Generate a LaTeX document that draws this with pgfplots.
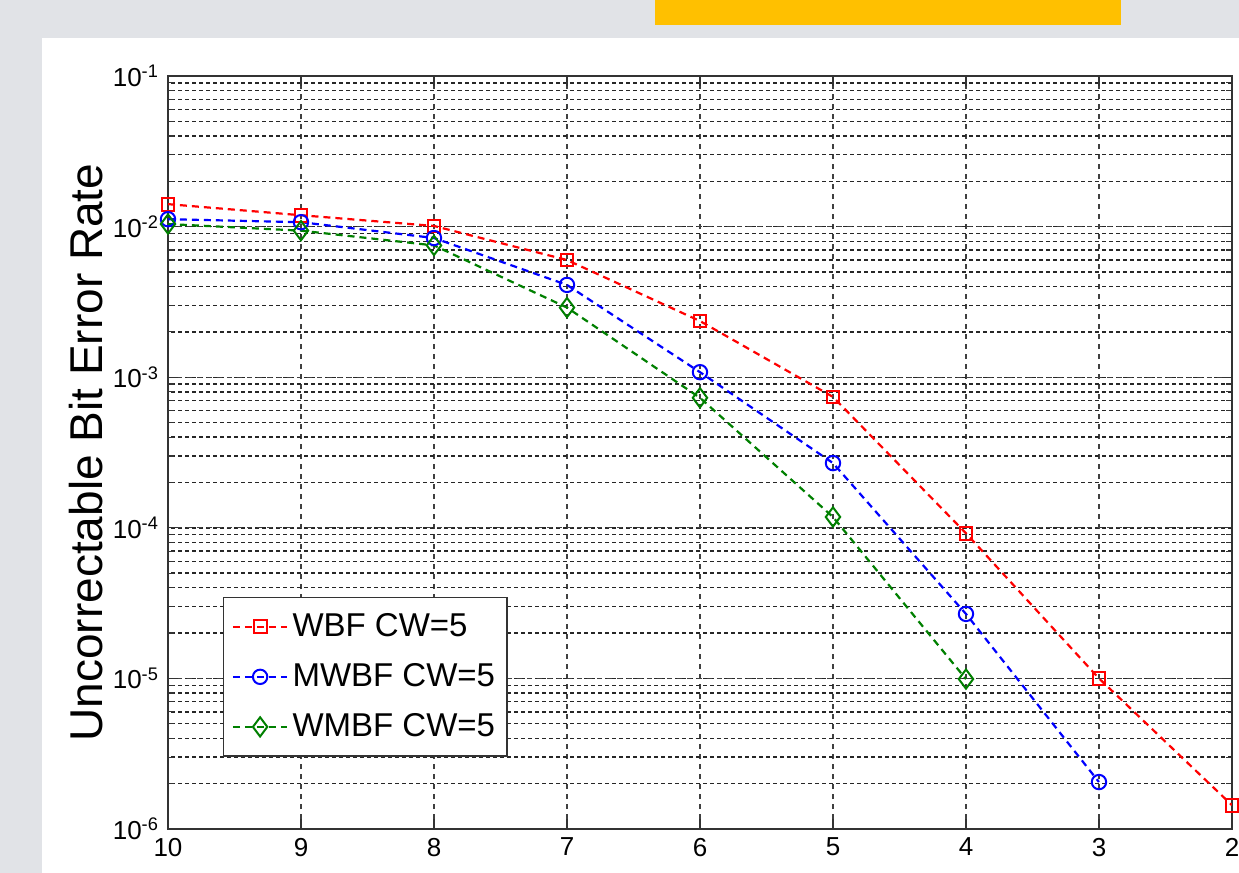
\documentclass[border=0pt]{standalone}
\usepackage{fontspec}
\setmainfont{Liberation Sans}
\usepackage{pgfplots}
\pgfplotsset{compat=1.18}
\definecolor{bggray}{HTML}{E1E3E7}
\definecolor{ylw}{HTML}{FFC000}
\definecolor{mgreen}{HTML}{008000}
\begin{document}
\begin{tikzpicture}
\path[use as bounding box] (0pt,0pt) rectangle (619.5pt,436.5pt);
\fill[bggray] (0pt,0pt) rectangle (619.5pt,436.5pt);
\fill[white] (21pt,0pt) rectangle (619.5pt,417.5pt);
\fill[ylw] (327.5pt,424pt) rectangle (560.5pt,436.5pt);
\begin{axis}[
  at={(84pt,22pt)}, anchor=south west,
  scale only axis, width=532pt, height=376.5pt,
  xmin=2, xmax=10, x dir=reverse,
  ymode=log, ymin=1e-6, ymax=1e-1,
  xtick={2,3,4,5,6,7,8,9,10},
  ytick={1e-6,1e-5,1e-4,1e-3,1e-2,1e-1},
  yticklabels={10\textsuperscript{-6},10\textsuperscript{-5},10\textsuperscript{-4},10\textsuperscript{-3},10\textsuperscript{-2},10\textsuperscript{-1}},
  /pgf/number format/assume math mode=true,
  ticklabel style={font=\fontsize{13pt}{15pt}\selectfont},
  xticklabel style={yshift=-1pt},
  yticklabel style={xshift=-1pt},
  ylabel={Uncorrectable Bit Error Rate},
  ylabel style={font=\fontsize{23pt}{26pt}\selectfont, yshift=-2pt},
  axis line style={black!80, line width=0.7pt},
  tick style={black!80, line width=0.6pt},
  major tick length=5pt, minor tick length=3pt,
  tick align=inside,
  xmajorgrids=true, ymajorgrids=true, yminorgrids=true,
  major grid style={black!75, dash pattern=on 2.5pt off 2.5pt, line width=0.6pt},
  minor grid style={black!85, dash pattern=on 2pt off 1.5pt, line width=0.7pt},
  legend style={at={(0.0517,0.308)}, anchor=north west, draw=black!80, line width=0.7pt,
    font=\fontsize{16.5pt}{20pt}\selectfont, row sep=8pt, inner xsep=4pt, inner ysep=6pt},
  legend cell align=left,
  legend image code/.code={\draw[mark repeat=2,mark phase=2,#1] plot coordinates {(0cm,0cm) (0.48cm,0cm) (0.96cm,0cm)};},
  every axis plot/.append style={line width=1.1pt, dash pattern=on 3.5pt off 2.5pt},
]
\addplot[red, mark=square, mark size=3.2pt, mark options={solid, line width=1pt}] coordinates {
(10,0.0141) (9,0.0119) (8,0.0101) (7,0.0060) (6,0.00236) (5,7.4e-4) (4,9.2e-5) (3,1.0e-5) (2,1.44e-6)};
\addlegendentry{WBF CW=5}
\addplot[blue, mark=o, mark size=3.6pt, mark options={solid, line width=1pt}] coordinates {
(10,0.0112) (9,0.0107) (8,0.0084) (7,0.0041) (6,1.08e-3) (5,2.69e-4) (4,2.68e-5) (3,2.05e-6)};
\addlegendentry{MWBF CW=5}
\addplot[mgreen, mark=diamond, mark size=4.8pt, mark options={solid, line width=1pt}] coordinates {
(10,0.0104) (9,0.0094) (8,0.0075) (7,0.0029) (6,7.3e-4) (5,1.18e-4) (4,9.9e-6)};
\addlegendentry{WMBF CW=5}
\end{axis}
\end{tikzpicture}
\end{document}
